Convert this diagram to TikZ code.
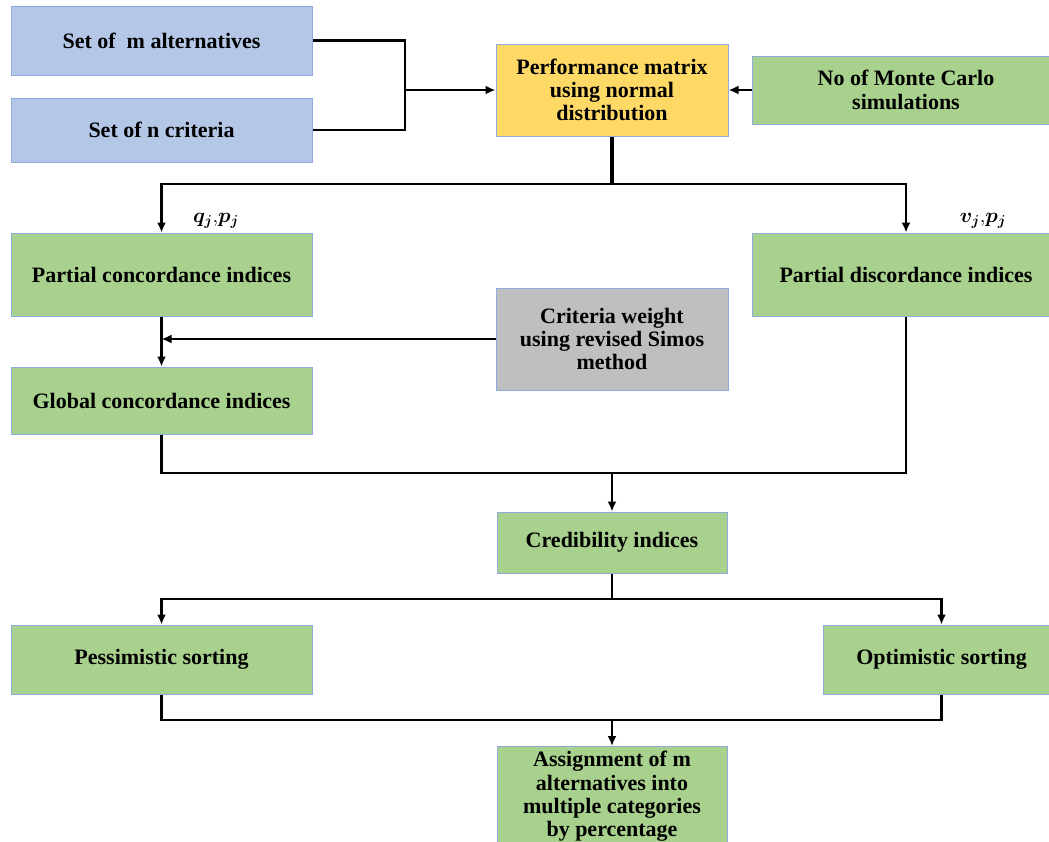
\documentclass[tikz,border=0pt]{standalone}
\usepackage{fontspec}
\setmainfont{Liberation Serif}
\usepackage{amsmath}
\usetikzlibrary{arrows.meta}
\definecolor{boxblue}{HTML}{B4C7E7}
\definecolor{boxgreen}{HTML}{A9D18E}
\definecolor{boxyellow}{HTML}{FFD966}
\definecolor{boxgray}{HTML}{BFBFBF}
\definecolor{edgeblue}{HTML}{8FAADC}
\tikzset{
	stagebox/.style={draw=edgeblue, line width=1pt, inner sep=0pt, align=center, font=\fontsize{22}{23.3}\selectfont\bfseries},
	link/.style={line width=2.4pt},
	flow/.style={link, -{Latex[length=10pt,width=9pt]}},
	mathlbl/.style={inner sep=0pt, font=\fontsize{22}{24}\selectfont},
}

\begin{document}
\begin{tikzpicture}[x=1pt, y=-1pt]
			%%%%% START %%%%%
			\fill[white] (0,0) rectangle (1049,841);
			\useasboundingbox (0,0) rectangle (1049,841);
			
			\node[stagebox, fill=boxblue, minimum width=301pt, minimum height=69pt] (alt) at (161.5,40.5) {Set of~ m alternatives};
			\node[stagebox, fill=boxblue, minimum width=301pt, minimum height=64pt] (crit) at (161.5,130) {Set of n criteria};
			\node[stagebox, fill=boxyellow, minimum width=232pt, minimum height=92pt] (perf) at (612,90) {Performance matrix\\using normal\\distribution};
			\node[stagebox, fill=boxgreen, minimum width=308pt, minimum height=68pt] (mc) at (906,90) {No of Monte Carlo\\simulations};
			
			\node[stagebox, fill=boxgreen, minimum width=301pt, minimum height=83pt] (pconc) at (161.5,274.5) {Partial concordance indices};
			\node[stagebox, fill=boxgreen, minimum width=308pt, minimum height=83pt] (pdisc) at (906,274.5) {Partial discordance indices};
			\node[mathlbl] (lblq) at (216,221) {$\boldsymbol{q_j},\!\boldsymbol{p_j}$};
			\node[mathlbl] (lblv) at (983,221) {$\boldsymbol{v_j},\!\boldsymbol{p_j}$};
			\node[stagebox, fill=boxgray, minimum width=232pt, minimum height=102pt] (weight) at (612,339) {Criteria weight\\using revised Simos\\method};
			\node[stagebox, fill=boxgreen, minimum width=301pt, minimum height=67pt] (gconc) at (161.5,400.5) {Global concordance indices};
			
			\node[stagebox, fill=boxgreen, minimum width=230pt, minimum height=61pt] (cred) at (612,542.5) {Credibility indices};
			\node[stagebox, fill=boxgreen, minimum width=301pt, minimum height=69pt] (pess) at (161.5,659.5) {Pessimistic sorting};
			\node[stagebox, fill=boxgreen, minimum width=237pt, minimum height=69pt] (opt) at (941.5,659.5) {Optimistic sorting};
			\node[stagebox, fill=boxgreen, minimum width=230pt, minimum height=100pt, anchor=north] (assign) at (612,746) {Assignment of m\\alternatives into\\multiple categories\\by percentage};
			
			% inputs
			\coordinate (join1) at (405,90);
			\draw[link] (alt.east) -| (join1) |- (crit.east);
			\draw[flow] (join1) -- (perf.west);
			\draw[flow] (mc.west) -- (perf.east);
			
			% partial indices
			\coordinate (split1) at (612,184);
			\draw[line width=4pt] (perf.south) -- (split1);
			\draw[flow] (split1) -| (pconc.north);
			\draw[flow] (split1) -| (pdisc.north);
			\draw[flow] (pconc.south) -- (gconc.north);
			\draw[flow] (weight.west) -- (weight.west -| pconc.south);
			
			% credibility
			\coordinate (merge1) at (612,473);
			\draw[link] (gconc.south) |- (merge1) -| (pdisc.south);
			\draw[flow] (merge1) -- (cred.north);
			
			% sorting
			\coordinate (split2) at (612,599);
			\draw[link] (cred.south) -- (split2);
			\draw[flow] (split2) -| (pess.north);
			\draw[flow] (split2) -| (opt.north);
			\coordinate (merge2) at (612,720);
			\draw[link] (pess.south) |- (merge2) -| (opt.south);
			\draw[flow] (merge2) -- (assign.north);
			
			%%%%% END %%%%%
\end{tikzpicture}
\end{document}
